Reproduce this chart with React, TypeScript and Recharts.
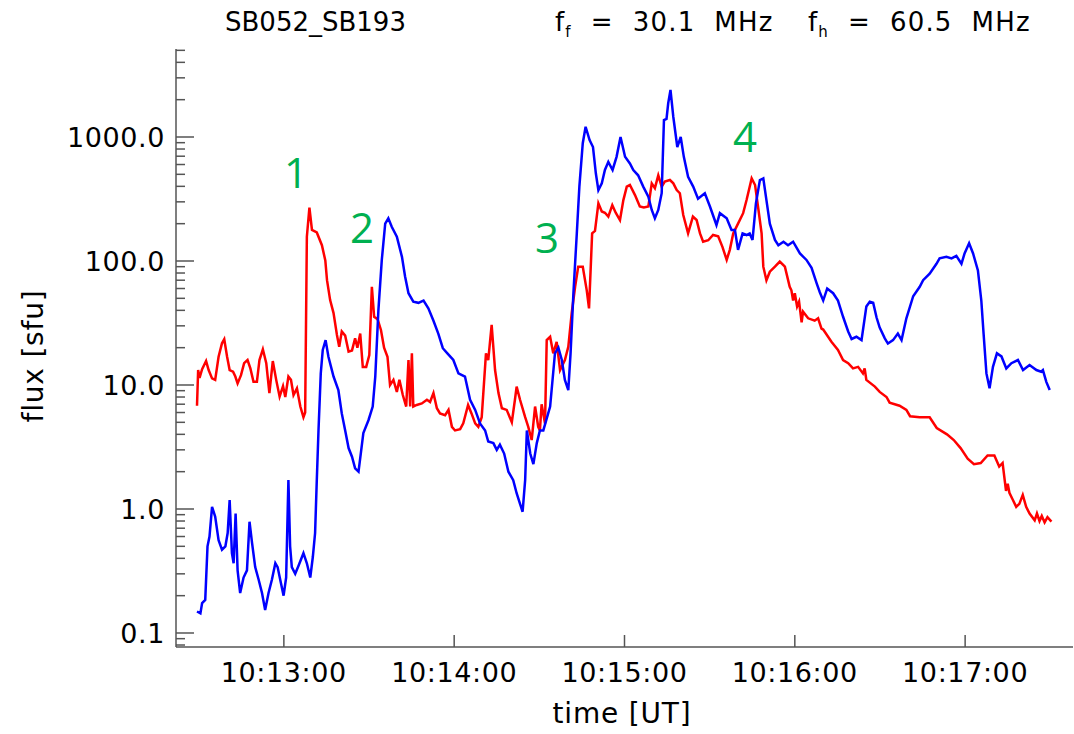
import React from "react";
import { LineChart, Line, XAxis, YAxis } from "recharts";

// time in seconds after 10:12:00 UT, flux in sfu
const redTime = [
  29.4, 29.8, 30.3, 31.2, 32.6, 33.5, 34.7, 35.8, 37.0, 38.2, 39.0, 40.0, 40.9, 42.1, 42.9, 43.7,
  44.9, 46.0, 47.2, 48.2, 49.3, 50.5, 51.4, 52.6, 53.8, 54.9, 56.1, 57.3, 58.5, 59.7, 60.5, 61.6,
  62.5, 63.4, 64.6, 65.8, 66.9, 67.5, 68.1, 69.0, 69.9, 71.6, 73.4, 74.6, 75.2, 76.3, 77.5, 78.7,
  79.5, 80.4, 81.6, 82.8, 84.0, 85.1, 85.9, 86.9, 87.8, 89.0, 90.1, 91.0, 91.8, 93.0, 94.2, 95.3,
  96.5, 97.4, 98.6, 99.8, 100.7, 101.9, 103.1, 103.9, 104.5, 105.1, 105.6, 106.8, 108.6, 110.4,
  111.5, 112.7, 113.9, 115.0, 116.8, 118.0, 119.2, 120.3, 122.1, 123.2, 124.9, 126.1, 127.4,
  128.5, 129.7, 131.2, 132.0, 133.2, 134.4, 135.6, 136.8, 138.5, 140.3, 141.4, 142.0, 143.2,
  145.0, 146.1, 147.3, 148.5, 149.6, 150.2, 150.8, 152.0, 152.6, 153.8, 154.9, 156.1, 157.3,
  159.0, 160.2, 161.4, 162.6, 163.7, 165.3, 166.7, 167.5, 168.6, 169.6, 170.8, 172.0, 173.1,
  174.3, 175.7, 176.9, 178.4, 179.6, 180.8, 181.9, 183.7, 185.4, 186.8, 188.4, 189.6, 190.7,
  191.9, 193.1, 194.2, 196.0, 197.2, 198.4, 199.5, 200.7, 202.4, 204.1, 205.4, 206.6, 207.7,
  209.5, 211.2, 213.0, 214.5, 216.0, 217.1, 218.3, 220.0, 221.8, 223.0, 224.8, 226.0, 227.2,
  228.3, 228.9, 230.0, 231.2, 233.0, 234.7, 236.5, 238.2, 238.8, 239.4, 240.0, 240.8, 241.5,
  242.4, 242.9, 244.7, 247.0, 248.2, 249.4, 250.0, 252.9, 255.2, 257.0, 258.8, 260.5, 262.3,
  264.0, 264.6, 265.2, 268.2, 269.9, 272.3, 273.4, 276.9, 279.3, 280.6, 284.0, 287.5, 290.0,
  293.6, 296.0, 298.4, 300.9, 303.1, 305.5, 307.9, 310.3, 312.0, 313.2, 314.4, 315.0, 315.6,
  316.7, 318.0, 319.1, 320.3, 321.5, 322.7, 324.5, 325.3, 326.2, 327.0, 328.0, 329.0, 330.4,
];
const redFlux = [
  6.8, 13.2, 11.4, 13.4, 15.6, 13.2, 11.3, 11, 16.9, 21.7, 23.4, 16.9, 13.2, 12.8, 11.7, 10.3,
  12, 15, 15.9, 13.6, 10.6, 10.6, 15.9, 19.4, 15, 8.6, 15.6, 11, 8.05, 9.8, 8, 11.7,
  11, 8.3, 9.4, 6.7, 5.5, 6, 157, 269, 178, 170, 134, 101, 70, 48.4, 38, 25.3,
  20.3, 27, 25, 18.6, 19, 23.8, 20, 26, 14, 14, 17.4, 62, 35.5, 34, 27.8, 20,
  16.9, 10, 11, 8.8, 11, 8.3, 6.7, 15.9, 6.7, 18, 6.7, 6.9, 7.1, 7.6,
  7.3, 8.6, 6.5, 5.9, 5.7, 6.3, 4.6, 4.3, 4.4, 4.9, 6.9, 5.9, 4.9,
  4.6, 5.5, 18, 15.9, 30.5, 13.2, 8.6, 6.5, 6.3, 5.0, 7.6, 9.7, 7.6,
  5.5, 4.6, 3.6, 6.7, 4.6, 4.3, 7.0, 4.9, 23, 24.5, 18, 22.3, 13.2,
  15.9, 20.3, 38, 62, 90, 90, 58, 41.5, 167, 175, 292, 251, 245,
  228, 282, 245, 214, 310, 398, 410, 340, 275, 270, 275, 423, 387,
  491, 398, 437, 450, 423, 373, 352, 235, 167, 228, 214, 167, 143,
  147, 162, 158, 130, 102, 123, 167, 200, 243, 310, 464, 410, 258,
  167, 90, 70, 82, 90, 99, 90, 62, 58, 48, 55, 43, 47,
  32, 39, 34.5, 33, 34.5, 28.5, 28, 22.3, 19.2, 15.9, 15, 13.6, 14,
  12.4, 13.6, 11, 9.7, 8.8, 8, 7.2, 6.8, 6.3, 5.6, 5.5, 5.5, 4.5,
  4.0, 3.6, 3.1, 2.55, 2.3, 2.35, 2.7, 2.7, 2.2, 2.35, 1.4, 1.6, 1.35,
  1.2, 1.04, 1.1, 1.3, 1.04, 0.92, 0.81, 0.92, 0.8, 0.88, 0.78, 0.86, 0.79,
];

const blueTime = [
  29.4, 30.6, 31.2, 32.3, 33.1, 33.8, 34.7, 35.8, 37.0, 38.2, 39.4, 40.2, 40.9, 41.7, 42.3, 43.0,
  43.7, 44.6, 45.8, 47.0, 47.9, 48.8, 49.9, 51.1, 52.3, 53.4, 54.6, 55.8, 57.0, 57.8, 58.7, 59.9,
  60.8, 61.6, 62.2, 62.8, 64.0, 65.2, 66.9, 68.1, 69.3, 70.2, 71.0, 71.6, 72.2, 73.0, 73.7, 74.7,
  75.7, 77.5, 79.2, 80.4, 81.6, 82.8, 84.0, 85.1, 86.3, 87.1, 88.0, 89.8, 91.3, 92.2, 93.3, 94.5,
  95.7, 96.8, 98.0, 99.8, 101.6, 102.7, 103.9, 105.6, 107.4, 109.2, 110.9, 112.7, 114.4, 116.0,
  117.6, 119.7, 121.5, 123.8, 125.6, 127.4, 129.1, 130.9, 132.0, 133.8, 135.0, 136.1, 137.6,
  139.1, 140.8, 142.0, 143.2, 144.1, 145.0, 145.6, 146.8, 147.9, 149.1, 150.2, 151.4, 153.8,
  155.5, 156.7, 157.9, 159.0, 160.2, 161.0, 162.0, 163.2, 164.1, 165.3, 166.3, 167.7, 168.9,
  169.9, 170.8, 172.0, 173.1, 174.3, 175.8, 177.2, 178.6, 180.2, 181.9, 183.1, 184.8, 186.6,
  188.4, 189.6, 190.7, 191.9, 193.1, 193.9, 194.8, 195.4, 196.2, 197.2, 198.6, 199.8, 200.9,
  202.4, 204.2, 205.9, 208.3, 210.1, 212.4, 213.6, 216.0, 217.7, 218.9, 220.0, 221.6, 223.0,
  224.1, 225.1, 226.3, 227.7, 228.9, 230.0, 231.2, 233.0, 234.2, 236.0, 237.6, 239.4, 241.8,
  244.1, 245.9, 247.7, 248.8, 250.0, 251.4, 253.5, 255.2, 257.0, 258.8, 260.0, 261.7, 263.5,
  265.2, 266.4, 267.6, 268.8, 269.9, 271.7, 272.8, 274.6, 276.3, 277.6, 279.3, 281.7, 284.0,
  285.2, 287.5, 289.9, 291.0, 293.4, 295.2, 296.9, 298.7, 299.8, 301.4, 302.8, 304.5, 305.7,
  306.5, 307.5, 308.6, 309.8, 311.2, 312.8, 314.5, 316.3, 318.6, 320.4, 322.7, 325.1, 326.8,
  327.4, 328.6, 329.8,
];
const blueFlux = [
  0.149, 0.144, 0.174, 0.185, 0.5, 0.6, 1.04, 0.87, 0.56, 0.47, 0.5, 0.64, 1.18, 0.44, 0.365, 0.92,
  0.32, 0.21, 0.28, 0.32, 0.79, 0.53, 0.34, 0.27, 0.21, 0.153, 0.21, 0.27, 0.365, 0.34, 0.27, 0.2,
  0.28, 1.71, 0.5, 0.34, 0.3, 0.35, 0.44, 0.365, 0.28, 0.41, 0.64, 1.71, 4.3, 12.4, 19.2, 23,
  16.9, 11.7, 9.1, 5.9, 4.3, 3.1, 2.64, 2.13, 2.0, 2.8, 4.1, 5.2, 6.7, 11.7, 40, 102,
  200, 221, 189, 157, 108, 75, 55, 47, 46, 48, 41.5, 33, 26, 19.8,
  18, 15.9, 12.4, 11.7, 7.6, 6.3, 4.9, 4.3, 3.5, 3.4, 3.0, 3.3, 2.8,
  2.0, 1.71, 1.34, 1.1, 0.95, 1.71, 4.3, 2.8, 2.3, 3.4, 4.3, 4.3, 6.7,
  18, 20, 16, 11, 9.1, 18, 55, 167, 398, 890, 1210, 946, 830,
  510, 373, 423, 542, 630, 542, 692, 1000, 692, 612, 542, 491, 398,
  330, 258, 221, 258, 352, 1370, 1400, 1870, 2400, 1450, 830, 1000, 692,
  478, 398, 318, 352, 275, 195, 243, 221, 178, 178, 123, 167, 162,
  167, 148, 292, 450, 464, 310, 200, 148, 134, 143, 134, 143, 115,
  102, 88, 66, 56, 48, 60, 55, 48, 35.5, 27, 23.5, 24.5, 23,
  43, 47, 46, 35, 29, 23.8, 21.6, 23, 26, 23, 34.5, 52, 62,
  70, 79, 95, 105, 108, 105, 110, 95, 115, 139, 115, 84, 48,
  26, 12.4, 9.4, 14, 18, 17, 13.6, 15, 15.9, 13.2, 14.5, 13.2, 12.8,
  13.2, 10.6, 9.1,
];

const timeTicks = [60, 120, 180, 240, 300];
const timeLabels = ["10:13:00", "10:14:00", "10:15:00", "10:16:00", "10:17:00"];
const fluxTicks = [
  0.08, 0.09, 0.1, 0.2, 0.3, 0.4, 0.5, 0.6, 0.7, 0.8, 0.9, 1, 2, 3, 4, 5, 6, 7, 8, 9,
  10, 20, 30, 40, 50, 60, 70, 80, 90, 100, 200, 300, 400, 500, 600, 700, 800, 900,
  1000, 2000, 3000, 4000, 5000,
];

const redData = redTime.map((t, i) => ({ t, v: redFlux[i] }));
const blueData = blueTime.map((t, i) => ({ t, v: blueFlux[i] }));

const AXIS = "#555";
const FONT = "DejaVu Sans, sans-serif";
const GREEN = "#00b050";
const SP = "\u00a0\u00a0";

const isDecade = (v: number) => Math.abs(Math.log10(v) - Math.round(Math.log10(v))) < 1e-6;

function BottomTick({ x, y, payload }: any) {
  const i = timeTicks.indexOf(payload.value);
  return (
    <g>
      <line x1={x} x2={x} y1={y} y2={y - 12} stroke={AXIS} strokeWidth={1.5} />
      <text x={x} y={y + 35} textAnchor="middle" fontFamily={FONT} fontSize={27} letterSpacing={0.6} fill="#000">
        {timeLabels[i]}
      </text>
    </g>
  );
}

function TopTick({ x, y }: any) {
  return <line x1={x} x2={x} y1={y} y2={y + 13} stroke={AXIS} strokeWidth={1.5} />;
}

function LeftTick({ x, y, payload }: any) {
  const major = isDecade(payload.value);
  return (
    <g>
      <line x1={x} x2={x + (major ? 18 : 9)} y1={y} y2={y} stroke={AXIS} strokeWidth={1.5} />
      {major && (
        <text x={x - 11} y={y + 10} textAnchor="end" fontFamily={FONT} fontSize={27} letterSpacing={0.6} fill="#000">
          {payload.value.toFixed(1)}
        </text>
      )}
    </g>
  );
}

function RightTick({ x, y, payload }: any) {
  const major = isDecade(payload.value);
  return <line x1={x} x2={x - (major ? 18 : 9)} y1={y} y2={y} stroke={AXIS} strokeWidth={1.5} />;
}

export default function App() {
  return (
    <div style={{ position: "absolute", left: 0, top: 0, width: 1074, height: 734, background: "#fff" }}>
      <LineChart width={1074} height={734} margin={{ top: 49, right: 1, left: 76, bottom: 0 }}>
        <XAxis
          xAxisId="b"
          dataKey="t"
          type="number"
          domain={[22, 338]}
          allowDataOverflow
          ticks={timeTicks}
          interval={0}
          height={87}
          tickSize={0}
          tickMargin={0}
          tickLine={false}
          axisLine={{ stroke: AXIS, strokeWidth: 1.5 }}
          tick={<BottomTick />}
        />
        <XAxis
          xAxisId="top"
          orientation="top"
          dataKey="t"
          type="number"
          domain={[22, 338]}
          allowDataOverflow
          ticks={timeTicks}
          interval={0}
          height={0}
          tickSize={0}
          tickMargin={0}
          tickLine={false}
          axisLine={{ stroke: AXIS, strokeWidth: 1.5 }}
          tick={<TopTick />}
        />
        <YAxis
          yAxisId="l"
          scale="log"
          type="number"
          domain={[0.0771, 5125]}
          allowDataOverflow
          ticks={fluxTicks}
          interval={0}
          width={100}
          tickSize={0}
          tickMargin={0}
          tickLine={false}
          axisLine={{ stroke: AXIS, strokeWidth: 1.5 }}
          tick={<LeftTick />}
        />
        <YAxis
          yAxisId="r"
          orientation="right"
          scale="log"
          type="number"
          domain={[0.0771, 5125]}
          allowDataOverflow
          ticks={fluxTicks}
          interval={0}
          width={0}
          tickSize={0}
          tickMargin={0}
          tickLine={false}
          axisLine={{ stroke: AXIS, strokeWidth: 1.5 }}
          tick={<RightTick />}
        />
        <Line
          xAxisId="b"
          yAxisId="l"
          data={redData}
          dataKey="v"
          stroke="#ff0000"
          strokeWidth={2.5}
          dot={false}
          isAnimationActive={false}
        />
        <Line
          xAxisId="b"
          yAxisId="l"
          data={blueData}
          dataKey="v"
          stroke="#0000ff"
          strokeWidth={2.5}
          dot={false}
          isAnimationActive={false}
        />
      </LineChart>
      <svg
        width={1074}
        height={734}
        style={{ position: "absolute", left: 0, top: 0, pointerEvents: "none" }}
      >
        <g fontFamily={FONT} fontSize={26} fill="#000">
          <text x={225} y={31}>SB052_SB193</text>
          <text x={555} y={31} letterSpacing={1.2}>
            f<tspan fontSize={15} dy={6}>f</tspan>
            <tspan dy={-6}>{`${SP}=${SP}30.1${SP}MHz`}</tspan>
          </text>
          <text x={808} y={31} letterSpacing={1.2}>
            f<tspan fontSize={15} dy={6}>h</tspan>
            <tspan dy={-6}>{`${SP}=${SP}60.5${SP}MHz`}</tspan>
          </text>
        </g>
        <g fontFamily={FONT} fontSize={28} fill="#000" letterSpacing={0.8}>
          <text x={622} y={723} textAnchor="middle">time [UT]</text>
          <text x={0} y={0} textAnchor="middle" transform="translate(43 356) rotate(-90)">
            flux [sfu]
          </text>
        </g>
        <g fontFamily="Open Sans, sans-serif" fontSize={42} fill={GREEN}>
          <text x={296} y={188} textAnchor="middle">1</text>
          <text x={362} y={243} textAnchor="middle">2</text>
          <text x={547} y={253} textAnchor="middle">3</text>
          <text x={745} y={152} textAnchor="middle">4</text>
        </g>
      </svg>
    </div>
  );
}
